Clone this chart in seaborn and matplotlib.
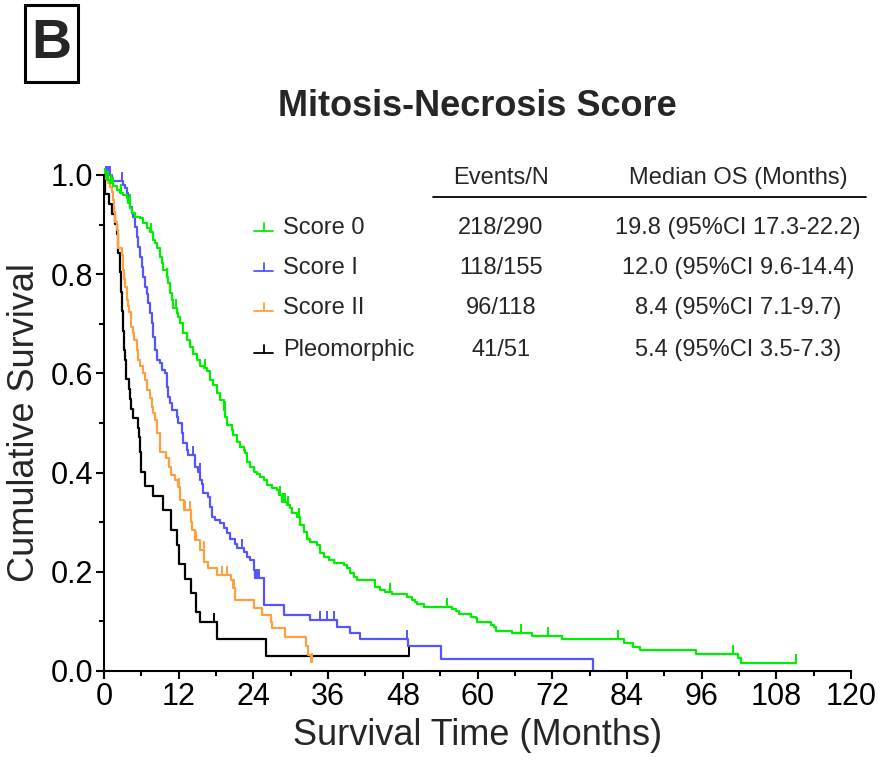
import numpy as np
import pandas as pd
import matplotlib
matplotlib.use("Agg")
import matplotlib.pyplot as plt
import seaborn as sns
from matplotlib.lines import Line2D
from matplotlib.patches import Rectangle
from matplotlib.ticker import MultipleLocator, FormatStrFormatter

# ---- Kaplan-Meier step data (months, cumulative survival) ----
groups = ["Score 0", "Score I", "Score II", "Pleomorphic"]
colors = ["#00ee00", "#5555ff", "#ffa040", "#000000"]
events_n = ["218/290", "118/155", "96/118", "41/51"]
median_os = ["19.8 (95%CI 17.3-22.2)", "12.0 (95%CI 9.6-14.4)",
             "8.4 (95%CI 7.1-9.7)", "5.4 (95%CI 3.5-7.3)"]

score0_t = [0, 0.15, 0.43, 0.97, 1.5, 2.04, 2.57, 3.11, 3.64, 3.91, 4.18, 4.45, 4.98,
            5.79, 6.33, 6.86, 7.4, 7.94, 8.2, 8.47, 9.0, 9.27, 9.54, 10.08, 10.35,
            10.62, 10.88, 11.15, 11.69, 11.95, 12.22, 12.76, 13.3, 13.83, 14.37,
            14.91, 15.44, 16.0, 16.5, 17.05, 17.59, 18.12, 18.66, 19.2, 19.5, 19.75,
            20.5, 20.8, 21.34, 21.87, 22.41, 22.68, 22.95, 23.48, 24.02, 24.55,
            25.09, 25.63, 26.16, 26.97, 27.77, 28.04, 28.58, 29.38, 29.91, 30.18,
            30.98, 31.52, 32.05, 32.59, 33.12, 34.2, 34.74, 35.27, 36.08, 36.88,
            38.49, 39.03, 39.56, 40.1, 40.64, 43.59, 44.4, 45.2, 46.3, 48.7, 49.5,
            50.0, 50.3, 51.35, 55.9, 56.5, 57.0, 58.9, 59.7, 59.9, 62.1, 62.6, 62.9,
            65.6, 68.8, 73.6, 83.5, 85.0, 86.1, 95.06, 101.8, 102.3, 111.1]
score0_s = [1.0, 0.995, 0.990, 0.983, 0.977, 0.970, 0.963, 0.960, 0.953, 0.943, 0.933,
            0.923, 0.916, 0.913, 0.903, 0.893, 0.886, 0.869, 0.862, 0.852, 0.835,
            0.822, 0.808, 0.795, 0.782, 0.762, 0.748, 0.731, 0.721, 0.714, 0.701,
            0.681, 0.667, 0.654, 0.640, 0.627, 0.614, 0.610, 0.604, 0.587, 0.577,
            0.560, 0.547, 0.527, 0.513, 0.496, 0.486, 0.476, 0.462, 0.452, 0.446,
            0.439, 0.422, 0.412, 0.402, 0.398, 0.391, 0.385, 0.375, 0.368, 0.365,
            0.355, 0.341, 0.335, 0.328, 0.318, 0.311, 0.294, 0.281, 0.267, 0.261,
            0.254, 0.237, 0.230, 0.224, 0.218, 0.214, 0.207, 0.197, 0.190, 0.184,
            0.170, 0.164, 0.160, 0.155, 0.150, 0.143, 0.140, 0.135, 0.130, 0.124,
            0.120, 0.114, 0.109, 0.106, 0.098, 0.093, 0.089, 0.081, 0.076, 0.070,
            0.064, 0.057, 0.049, 0.042, 0.034, 0.027, 0.017, 0.017]
score0_censor = [0.2, 0.5, 0.7, 1.1, 1.5, 2.8, 4.1, 7.5, 10.1, 11.6, 16.2, 19.46,
                 28.3, 28.7, 29.0, 29.5, 31.4, 45.9, 55.1, 67.0, 71.4, 82.5, 101.1, 111.1]

score1_t = [0, 1.3, 3.1, 3.38, 3.64, 3.91, 4.18, 4.45, 4.72, 4.98, 5.25, 5.52, 5.79,
            6.06, 6.33, 6.6, 6.86, 7.13, 7.4, 7.67, 7.94, 8.2, 8.47, 9.0, 9.27, 9.81,
            10.08, 10.35, 10.62, 10.88, 11.69, 11.95, 12.49, 12.76, 13.3, 13.56,
            14.64, 15.17, 15.44, 15.71, 15.98, 16.78, 17.05, 17.32, 17.86, 18.66,
            19.2, 19.73, 20.27, 21.07, 21.34, 22.41, 22.95, 23.48, 24.02, 24.29,
            25.63, 28.85, 33.14, 37.43, 39.57, 41.08, 48.8, 54.2, 78.5]
score1_s = [1.0, 0.987, 0.980, 0.973, 0.963, 0.950, 0.936, 0.923, 0.916, 0.896, 0.876,
            0.855, 0.835, 0.815, 0.795, 0.775, 0.761, 0.741, 0.721, 0.701, 0.674,
            0.647, 0.627, 0.620, 0.607, 0.600, 0.573, 0.553, 0.540, 0.526, 0.513,
            0.499, 0.479, 0.459, 0.446, 0.435, 0.412, 0.402, 0.385, 0.378, 0.358,
            0.350, 0.331, 0.311, 0.305, 0.298, 0.288, 0.278, 0.267, 0.257, 0.247,
            0.240, 0.230, 0.224, 0.204, 0.187, 0.133, 0.113, 0.103, 0.089, 0.077,
            0.064, 0.050, 0.025, 0.0]
score1_censor = [0.4, 0.7, 0.9, 2.9, 14.3, 15.4, 22.1, 24.5, 24.9, 34.7, 35.8, 36.9, 48.7]

score2_t = [0, 0.3, 0.7, 1.0, 1.25, 1.5, 1.6, 1.77, 2.04, 2.3, 2.84, 3.0, 3.2, 3.38,
            3.64, 3.85, 4.07, 4.29, 4.61, 4.82, 5.25, 5.5, 5.85, 6.27, 6.54, 6.97,
            7.35, 7.67, 7.9, 8.26, 8.58, 8.96, 10.03, 10.4, 10.83, 11.4, 11.9, 12.2,
            12.9, 13.9, 14.1, 14.6, 15.5, 16.1, 16.75, 18.2, 20.4, 20.75, 21.1, 24.1,
            25.4, 26.8, 27.0, 29.1, 32.4, 32.8, 33.2, 33.4]
score2_s = [1.0, 0.992, 0.983, 0.975, 0.966, 0.950, 0.925, 0.906, 0.889, 0.852, 0.839,
            0.808, 0.790, 0.775, 0.748, 0.735, 0.724, 0.694, 0.681, 0.667, 0.647,
            0.627, 0.615, 0.600, 0.587, 0.567, 0.550, 0.533, 0.520, 0.506, 0.479,
            0.442, 0.429, 0.412, 0.395, 0.385, 0.371, 0.345, 0.325, 0.300, 0.284,
            0.264, 0.244, 0.220, 0.207, 0.194, 0.184, 0.167, 0.143, 0.128, 0.113,
            0.099, 0.086, 0.069, 0.050, 0.032, 0.019, 0.019]
score2_censor = [12.0, 13.0, 13.8, 14.8, 16.0, 18.9, 19.8, 20.9, 33.4]

pleo_t = [0, 0.1, 0.8, 1.3, 1.8, 2.1, 2.3, 2.6, 2.8, 2.95, 3.06, 3.22, 3.43, 3.59,
          4.0, 4.13, 4.4, 4.67, 5.45, 5.6, 5.75, 6.0, 6.6, 7.85, 9.55, 10.8, 11.8,
          12.1, 13.0, 14.0, 14.8, 15.4, 18.1, 26.1, 49.0]
pleo_s = [1.0, 0.961, 0.941, 0.922, 0.902, 0.882, 0.843, 0.804, 0.765, 0.725, 0.686,
          0.647, 0.627, 0.588, 0.569, 0.549, 0.529, 0.510, 0.490, 0.471, 0.441,
          0.402, 0.373, 0.353, 0.324, 0.284, 0.255, 0.216, 0.186, 0.157, 0.118,
          0.098, 0.065, 0.031, 0.031]
pleo_censor = [17.6, 49.0]

curves = {
    "Score 0": (score0_t, score0_s, score0_censor),
    "Score I": (score1_t, score1_s, score1_censor),
    "Score II": (score2_t, score2_s, score2_censor),
    "Pleomorphic": (pleo_t, pleo_s, pleo_censor),
}
palette = dict(zip(groups, colors))

frames = [pd.DataFrame({"time": t, "surv": s, "group": g})
          for g, (t, s, _) in curves.items()]
df = pd.concat(frames, ignore_index=True)

# ---- figure ----
sns.set_theme(style="ticks")
plt.rcParams["font.family"] = ["Liberation Sans", "DejaVu Sans"]

W, H = 888, 767
fig = plt.figure(figsize=(W / 100, H / 100), dpi=100)
fx = lambda x: x / W
fy = lambda y: 1 - y / H

ax = fig.add_axes([fx(104), fy(671), (851 - 104) / W, (671 - 175) / H])

draw_order = ["Pleomorphic", "Score II", "Score I", "Score 0"]
sns.lineplot(data=df, x="time", y="surv", hue="group", hue_order=draw_order,
             palette=palette, drawstyle="steps-post", estimator=None,
             legend=False, lw=1.6, ax=ax)
for ln in ax.lines:
    ln.set_clip_on(False)

# censored observations as upward ticks on each curve
for g in draw_order:
    t, s, cens = curves[g]
    t = np.asarray(t)
    s = np.asarray(s)
    idx = np.searchsorted(t, cens, side="right") - 1
    ax.plot(cens, s[idx], ls="none", marker=2, ms=6.5, mew=1.4,
            color=palette[g], clip_on=False)

ax.set_xlim(0, 120)
ax.set_ylim(0, 1.0)
ax.xaxis.set_major_locator(MultipleLocator(12))
ax.xaxis.set_minor_locator(MultipleLocator(6))
ax.yaxis.set_major_locator(MultipleLocator(0.2))
ax.yaxis.set_minor_locator(MultipleLocator(0.1))
ax.yaxis.set_major_formatter(FormatStrFormatter("%.1f"))
ax.tick_params(which="major", length=6, width=1.5, labelsize=22, pad=2,
               color="black", labelcolor="black")
ax.tick_params(which="minor", length=3.5, width=1.5, color="black")
sns.despine(ax=ax)
for sp in ("left", "bottom"):
    ax.spines[sp].set_linewidth(1.5)
    ax.spines[sp].set_color("black")
ax.set_xlabel("Survival Time (Months)", fontsize=26, labelpad=4)
ax.set_ylabel("Cumulative Survival", fontsize=26, labelpad=6)

# title and panel letter
fig.text(fx(477), fy(107), "Mitosis-Necrosis Score", fontsize=26,
         fontweight="bold", ha="center", va="center")
fig.add_artist(Rectangle((fx(25), fy(82)), (78 - 25) / W, (82 - 5) / H,
                         transform=fig.transFigure, fill=False, lw=2.2,
                         ec="black"))
fig.text(fx(51.5), fy(44), "B", fontsize=40, fontweight="bold",
         ha="center", va="center")

# legend with summary table
fs = 17
fig.text(fx(501), fy(178), "Events/N", fontsize=fs, ha="center", va="center")
fig.text(fx(738), fy(178), "Median OS (Months)", fontsize=fs, ha="center",
         va="center")
fig.add_artist(Line2D([fx(433), fx(866)], [fy(197), fy(197)], color="black",
                      lw=1.3, transform=fig.transFigure))
row_y = [228, 268, 308, 350]
for g, ev, med, y in zip(groups, events_n, median_os, row_y):
    c = palette[g]
    fig.add_artist(Line2D([fx(254), fx(273)], [fy(y + 3), fy(y + 3)], color=c,
                          lw=1.3, transform=fig.transFigure))
    fig.add_artist(Line2D([fx(263.5), fx(263.5)], [fy(y + 3), fy(y - 5)],
                          color=c, lw=1.3, transform=fig.transFigure))
    fig.text(fx(283), fy(y), g, fontsize=fs, ha="left", va="center")
    fig.text(fx(501), fy(y), ev, fontsize=fs, ha="center", va="center")
    fig.text(fx(738), fy(y), med, fontsize=fs, ha="center", va="center")

fig.savefig("out.png", dpi=100, facecolor="white")
